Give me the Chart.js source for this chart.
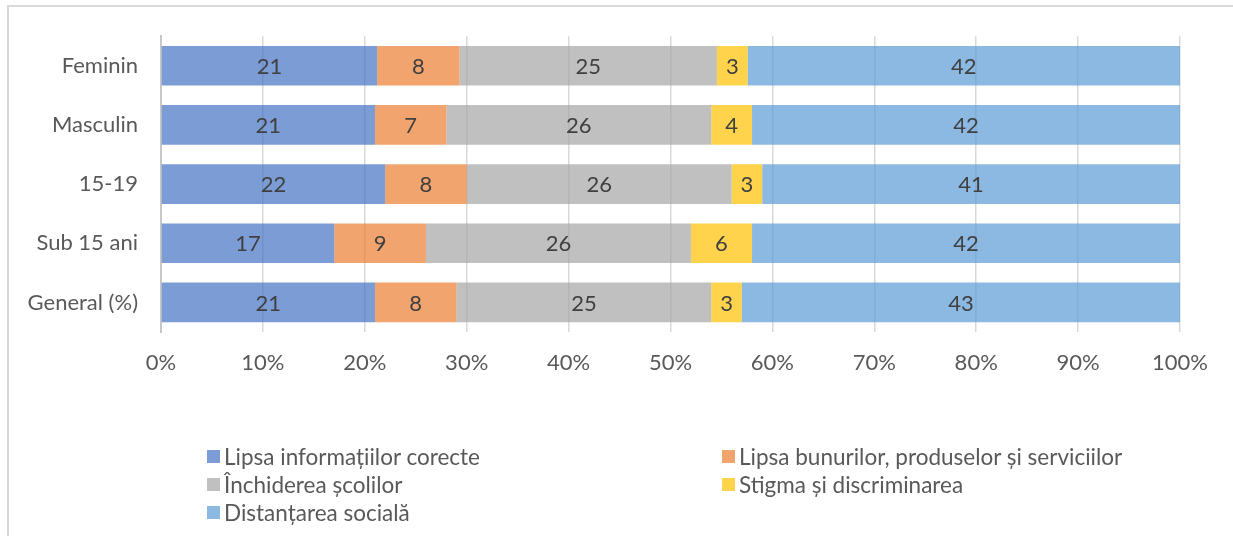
<!DOCTYPE html>
<html>
<head>
<meta charset="utf-8">
<script src="https://cdn.jsdelivr.net/npm/chart.js@4"></script>
<style>
  html, body { margin: 0; padding: 0; background: #fff; overflow: hidden; }
  #wrap { position: relative; width: 1233px; height: 536px; }
  #frame { position: absolute; left: 7px; top: 5px; width: 1300px; height: 600px; border: 2px solid #D9D9D9; box-sizing: border-box; }
  #chart { position: absolute; left: 0; top: 0; }
  #legend { position: absolute; left: 207px; top: 443px; display: grid; grid-template-columns: 515px 400px; row-gap: 2px; font-family: Lato, sans-serif; font-size: 22.5px; color: #595959; }
  #legend div { display: flex; align-items: center; height: 26px; white-space: nowrap; }
  #legend span.box { width: 13px; height: 13px; margin-right: 4px; flex: none; }
</style>
</head>
<body>
<div id="wrap">
  <div id="frame"></div>
  <canvas id="chart" width="1233" height="536"></canvas>
  <div id="legend"></div>
</div>
<script>
const categories = ['Feminin', 'Masculin', '15-19', 'Sub 15 ani', 'General (%)'];
const seriesNames = [
  'Lipsa informațiilor corecte',
  'Lipsa bunurilor, produselor și serviciilor',
  'Închiderea școlilor',
  'Stigma și discriminarea',
  'Distanțarea socială'
];
const lipsaInformatii = [21, 21, 22, 17, 21];
const lipsaBunuri = [8, 7, 8, 9, 8];
const inchidereaScolilor = [25, 26, 26, 26, 25];
const stigma = [3, 4, 3, 6, 3];
const distantare = [42, 42, 41, 42, 43];
const xTicks = ['0%', '10%', '20%', '30%', '40%', '50%', '60%', '70%', '80%', '90%', '100%'];

const colors = [
  'rgba(68,114,196,0.7)',
  'rgba(237,125,49,0.7)',
  'rgba(165,165,165,0.7)',
  'rgba(255,192,0,0.7)',
  'rgba(91,155,213,0.7)'
];

const series = [lipsaInformatii, lipsaBunuri, inchidereaScolilor, stigma, distantare];
// each row is shown as a share of its own total (100% stacked)
const totals = categories.map((c, i) => series.reduce((s, arr) => s + arr[i], 0));

const datasets = series.map((values, k) => ({
  label: seriesNames[k],
  values: values,
  data: values.map((v, i) => v / totals[i] * 100),
  backgroundColor: colors[k],
  borderWidth: 0,
  categoryPercentage: 1,
  barPercentage: 0.67
}));

// value labels in the middle of each segment
const segmentLabels = {
  id: 'segmentLabels',
  afterDatasetsDraw(chart) {
    const ctx = chart.ctx;
    ctx.save();
    ctx.font = '22px Lato, sans-serif';
    ctx.fillStyle = '#404040';
    ctx.textAlign = 'center';
    ctx.textBaseline = 'middle';
    chart.data.datasets.forEach((ds, di) => {
      chart.getDatasetMeta(di).data.forEach((bar, i) => {
        const p = bar.getProps(['x', 'y', 'base'], true);
        ctx.fillText(String(ds.values[i]), (p.x + p.base) / 2, p.y + 1);
      });
    });
    ctx.restore();
  }
};

new Chart(document.getElementById('chart'), {
  type: 'bar',
  data: { labels: categories, datasets: datasets },
  options: {
    indexAxis: 'y',
    responsive: false,
    animation: false,
    layout: { padding: { left: 0, top: 35, right: 53, bottom: 154 } },
    plugins: { legend: { display: false }, tooltip: { enabled: false } },
    scales: {
      x: {
        stacked: true,
        min: 0,
        max: 100,
        ticks: {
          stepSize: 10,
          padding: 18,
          color: '#595959',
          font: { family: 'Lato', size: 22 },
          callback: (v, i) => xTicks[i]
        },
        grid: { color: '#D9D9D9', lineWidth: 1.5, drawTicks: false },
        border: { display: false },
        afterFit(scale) { scale.height = 50; }
      },
      y: {
        stacked: true,
        ticks: {
          padding: 23,
          color: '#595959',
          font: { family: 'Lato', size: 22 }
        },
        grid: { display: false, drawTicks: false },
        border: { color: '#C8C8C8', width: 2 },
        afterFit(scale) { scale.width = 161; }
      }
    }
  },
  plugins: [segmentLabels]
});

// legend in two columns, row by row
const legend = document.getElementById('legend');
seriesNames.forEach((name, k) => {
  const item = document.createElement('div');
  const box = document.createElement('span');
  box.className = 'box';
  box.style.background = colors[k];
  item.appendChild(box);
  item.appendChild(document.createTextNode(name));
  legend.appendChild(item);
});
</script>
</body>
</html>
